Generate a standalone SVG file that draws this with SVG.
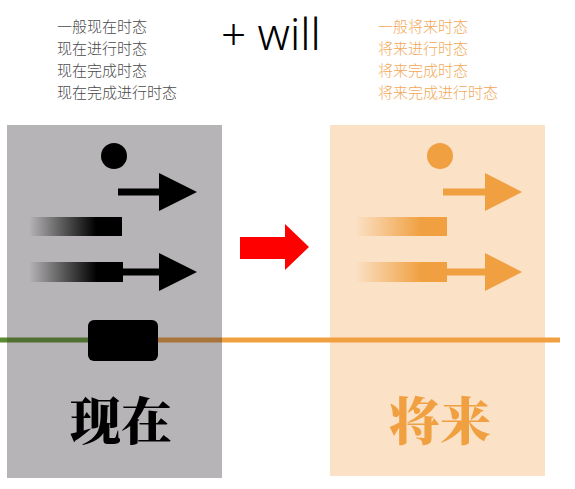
<svg xmlns="http://www.w3.org/2000/svg" width="575" height="489" viewBox="0 0 575 489">
<defs>
<style>
.small{font-family:"Noto Sans CJK SC","Noto Sans",sans-serif;font-size:15px;font-weight:300}
.gt{fill:#4a4a4a}
.ot{fill:#f2a857}
.big{font-family:"Noto Serif CJK SC","Noto Sans CJK SC",serif;font-size:51px;font-weight:900}
</style>
<linearGradient id="gBlack" x1="0" y1="0" x2="1" y2="0">
<stop offset="0" stop-color="#000" stop-opacity="0"/>
<stop offset="0.72" stop-color="#000" stop-opacity="1"/>
<stop offset="1" stop-color="#000" stop-opacity="1"/>
</linearGradient>
<linearGradient id="gOrange" x1="0" y1="0" x2="1" y2="0">
<stop offset="0" stop-color="#f0a040" stop-opacity="0"/>
<stop offset="0.72" stop-color="#f0a040" stop-opacity="1"/>
<stop offset="1" stop-color="#f0a040" stop-opacity="1"/>
</linearGradient>
</defs>
<rect width="575" height="489" fill="#fff"/>

<g id="labels-top">
<text class="small gt" x="57" y="32">一般现在时态</text>
<text class="small gt" x="57" y="54">现在进行时态</text>
<text class="small gt" x="57" y="76">现在完成时态</text>
<text class="small gt" x="57" y="98">现在完成进行时态</text>
<text x="221" y="50" font-family="'Noto Sans','Open Sans',sans-serif" font-weight="300" font-size="44" fill="#000">+ will</text>
<text class="small ot" x="378" y="32">一般将来时态</text>
<text class="small ot" x="378" y="54">将来进行时态</text>
<text class="small ot" x="378" y="76">将来完成时态</text>
<text class="small ot" x="378" y="98">将来完成进行时态</text>
</g>

<g id="present">
<rect x="7" y="125" width="215" height="353" fill="#b6b4b6"/>
<circle cx="114" cy="156" r="13" fill="#000"/>
<rect x="118" y="188.5" width="42" height="7" fill="#000"/>
<polygon points="159,173 197,192 159,211" fill="#000"/>
<rect x="29" y="217" width="93" height="19" fill="url(#gBlack)"/>
<rect x="29" y="262" width="94" height="20" fill="url(#gBlack)"/>
<rect x="122" y="268.5" width="38" height="7" fill="#000"/>
<polygon points="159,253 197,272 159,291" fill="#000"/>
<text class="big" x="121" y="440" text-anchor="middle" fill="#000">现在</text>
</g>

<g id="future">
<rect x="330" y="125" width="215" height="351" fill="#fbe1c6"/>
<circle cx="440" cy="156" r="13" fill="#f0a040"/>
<rect x="443" y="188.5" width="43" height="7" fill="#f0a040"/>
<polygon points="485,173 522,192 485,211" fill="#f0a040"/>
<rect x="355" y="217" width="92" height="19" fill="url(#gOrange)"/>
<rect x="355" y="262" width="92" height="20" fill="url(#gOrange)"/>
<rect x="446" y="268.5" width="40" height="7" fill="#f0a040"/>
<polygon points="485,253 522,272 485,291" fill="#f0a040"/>
<text class="big" x="440" y="440" text-anchor="middle" fill="#f0a040">将来</text>
</g>

<g id="connectors">
<rect x="0" y="337.5" width="7" height="5" fill="#5a8a32"/>
<rect x="7" y="337.5" width="82" height="5" fill="#4f7030"/>
<rect x="157" y="337.5" width="65" height="5" fill="#a9743a"/>
<rect x="222" y="337.5" width="338" height="5" fill="#f0a040"/>
<rect x="88" y="320" width="70" height="41" rx="6" fill="#000"/>
<polygon points="240,237 285,237 285,224 309,247 285,270 285,259 240,259" fill="#ff0000"/>
</g>
</svg>
